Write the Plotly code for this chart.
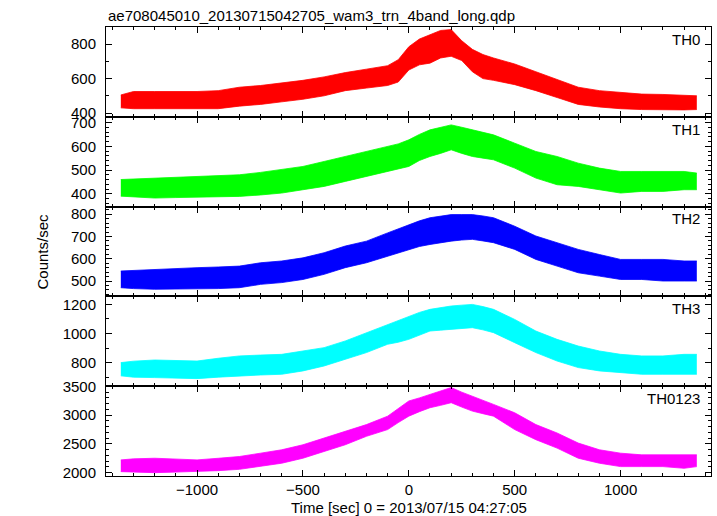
import plotly.graph_objects as go
from plotly.subplots import make_subplots

title_text = "ae708045010_20130715042705_wam3_trn_4band_long.qdp"
x_title = "Time [sec] 0 = 2013/07/15 04:27:05"
y_title = "Counts/sec"

# time grid (sec) for envelope readings
time_s = [-1360, -1300, -1200, -1100, -1000, -900, -800, -700, -600, -500, -400, -300,
          -200, -100, -50, 0, 50, 100, 150, 200, 250, 300, 350, 400, 500, 600, 700,
          800, 900, 1000, 1100, 1200, 1300, 1360]

# upper / lower envelope of each noisy light curve (counts/sec)
th0_hi = [505, 525, 525, 525, 525, 530, 550, 560, 575, 590, 610, 635, 655, 675, 710, 785, 830,
          855, 880, 885, 820, 770, 740, 720, 685, 640, 595, 550, 530, 520, 510, 508, 505, 500]
th0_lo = [430, 425, 425, 425, 425, 425, 440, 450, 465, 480, 500, 530, 545, 560, 580, 650, 680,
          690, 720, 730, 705, 640, 600, 590, 565, 530, 490, 450, 435, 425, 420, 418, 418, 420]

th1_hi = [460, 462, 466, 468, 473, 476, 480, 490, 501, 515, 536, 557, 578, 599, 610, 627, 650,
          669, 680, 690, 680, 669, 660, 648, 613, 578, 557, 529, 508, 494, 494, 494, 494, 487]
th1_lo = [390, 386, 382, 384, 386, 388, 389, 395, 403, 417, 431, 452, 473, 494, 505, 515, 540,
          557, 570, 585, 570, 557, 550, 543, 508, 466, 438, 431, 417, 403, 410, 410, 417, 417]

th2_hi = [545, 548, 552, 556, 560, 563, 567, 582, 590, 604, 627, 657, 679, 716, 735, 754, 770,
          784, 792, 798, 798, 798, 792, 784, 746, 702, 672, 642, 619, 597, 597, 597, 590, 590]
th2_lo = [470, 466, 463, 463, 463, 466, 470, 485, 493, 507, 530, 560, 582, 612, 625, 642, 655,
          664, 672, 679, 684, 687, 680, 672, 642, 597, 567, 537, 522, 507, 507, 500, 500, 500]

th3_hi = [800, 810, 818, 815, 811, 830, 846, 852, 857, 880, 903, 949, 1006, 1063, 1090, 1120, 1145,
          1166, 1178, 1189, 1195, 1200, 1185, 1166, 1097, 1017, 960, 914, 880, 857, 846, 846, 857, 857]
th3_lo = [709, 700, 697, 693, 690, 700, 709, 715, 720, 743, 777, 823, 869, 926, 940, 960, 990,
          1017, 1023, 1029, 1035, 1040, 1025, 1006, 937, 869, 811, 766, 743, 731, 720, 720, 720, 720]

th0123_hi = [2222, 2240, 2251, 2235, 2222, 2250, 2281, 2339, 2398, 2485, 2602, 2719, 2836, 2982,
             3110, 3246, 3300, 3363, 3420, 3480, 3400, 3333, 3260, 3187, 3041, 2836, 2690, 2515,
             2398, 2339, 2310, 2310, 2310, 2310]
th0123_lo = [2018, 2010, 2000, 2010, 2018, 2035, 2058, 2105, 2164, 2251, 2368, 2485, 2632, 2749,
             2870, 2982, 3060, 3129, 3170, 3216, 3140, 3070, 3025, 2982, 2749, 2573, 2427, 2251,
             2164, 2105, 2105, 2105, 2076, 2105]

band_names = ["TH0", "TH1", "TH2", "TH3", "TH0123"]
band_colors = ["#ff0000", "#00ff00", "#0000ff", "#00ffff", "#ff00ff"]
band_hi = [th0_hi, th1_hi, th2_hi, th3_hi, th0123_hi]
band_lo = [th0_lo, th1_lo, th2_lo, th3_lo, th0123_lo]
y_ranges = [[378, 900], [346, 724], [431, 834], [638, 1255], [1942, 3503]]
y_dticks = [200, 100, 100, 200, 500]
y_minor = [100, 20, 20, 100, 100]
x_range = [-1430, 1427]

FONT = "Liberation Sans, Arial, Helvetica, sans-serif"

fig = make_subplots(rows=5, cols=1, shared_xaxes=True, vertical_spacing=0)

for i in range(5):
    r = i + 1
    fig.add_trace(go.Scatter(x=time_s, y=band_lo[i], mode="lines",
                             line=dict(color=band_colors[i], width=0.8),
                             showlegend=False, hoverinfo="skip"), row=r, col=1)
    fig.add_trace(go.Scatter(x=time_s, y=band_hi[i], mode="lines", fill="tonexty",
                             fillcolor=band_colors[i],
                             line=dict(color=band_colors[i], width=0.8),
                             showlegend=False, name=band_names[i]), row=r, col=1)
    fig.update_yaxes(row=r, col=1, range=y_ranges[i], dtick=y_dticks[i], tick0=0,
                     automargin=False,
                     showline=True, linecolor="black", linewidth=1, mirror="allticks",
                     ticks="inside", ticklen=6, tickcolor="black", tickwidth=1,
                     minor=dict(ticks="inside", dtick=y_minor[i], tick0=0, ticklen=3,
                                tickcolor="black", tickwidth=1, showgrid=False),
                     showgrid=False, zeroline=False, ticklabelstandoff=6,
                     tickfont=dict(family=FONT, size=15, color="black"))
    fig.update_xaxes(row=r, col=1, range=x_range, dtick=500, tick0=0,
                     automargin=False,
                     showline=True, linecolor="black", linewidth=1, mirror="allticks",
                     ticks="inside", ticklen=6, tickcolor="black", tickwidth=1,
                     minor=dict(ticks="inside", dtick=100, tick0=0, ticklen=3,
                                tickcolor="black", tickwidth=1, showgrid=False),
                     showgrid=False, zeroline=False, showticklabels=(r == 5),
                     tickfont=dict(family=FONT, size=15, color="black"))

annotations = []
# panel labels
for i in range(5):
    yref = "y domain" if i == 0 else f"y{i + 1} domain"
    annotations.append(dict(text=band_names[i], xref="paper", yref=yref, x=0.985, y=0.98,
                            xanchor="right", yanchor="top", showarrow=False,
                            font=dict(family=FONT, size=15, color="black")))
annotations.append(dict(text=title_text, xref="paper", yref="paper", x=0.0, y=1.0,
                        xanchor="left", yanchor="bottom", yshift=1, showarrow=False,
                        font=dict(family=FONT, size=15, color="black")))
annotations.append(dict(text=x_title, xref="paper", yref="paper", x=0.5, y=0.0,
                        xanchor="center", yanchor="top", yshift=-21, showarrow=False,
                        font=dict(family=FONT, size=15, color="black")))
annotations.append(dict(text=y_title, xref="paper", yref="paper", x=0.0, y=0.5,
                        xanchor="center", yanchor="middle", xshift=-64, textangle=-90,
                        showarrow=False, font=dict(family=FONT, size=15, color="black")))

fig.update_layout(width=717, height=516, margin=dict(l=106, r=6, t=27, b=40),
                  paper_bgcolor="white", plot_bgcolor="white", showlegend=False,
                  annotations=annotations, font=dict(family=FONT, size=15, color="black"))

fig.write_html("out.html",
               config={"displayModeBar": False},
               post_script="document.body.style.margin='0';"
                           "document.body.style.padding='0';"
                           "document.body.style.overflow='hidden';")
